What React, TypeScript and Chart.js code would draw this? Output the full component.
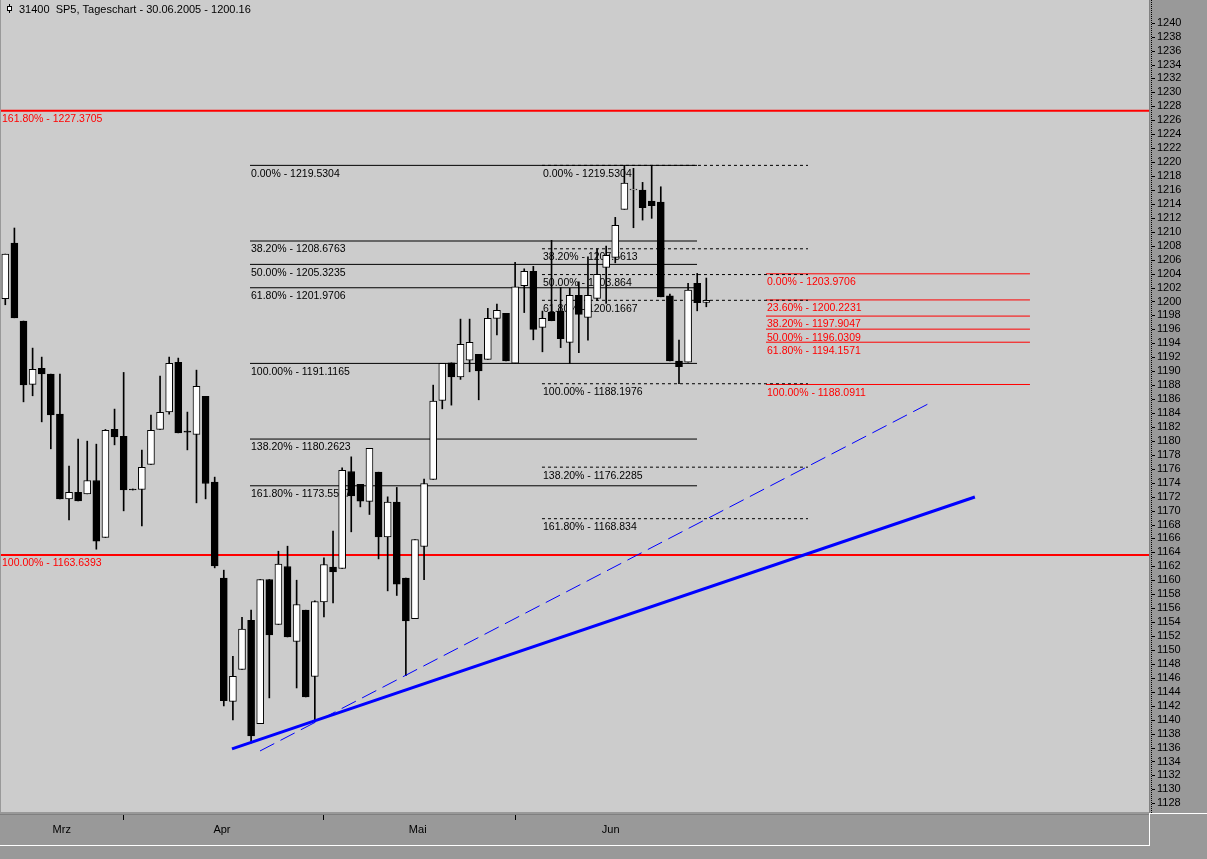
import React, { useEffect, useRef } from 'react';
import { Chart, registerables } from 'chart.js';

Chart.register(...registerables);

const TITLE = '31400  SP5, Tageschart - 30.06.2005 - 1200.16';

// Daily candles (index 0 = first visible trading day, 77 = 30.06.2005)
const opens = [
  1200.39, 1208.38, 1197.19, 1188.10, 1190.40, 1189.58, 1183.84, 1171.68, 1172.60, 1172.40,
  1174.32, 1166.14, 1181.64, 1180.64, 1173.10, 1173.03, 1176.62, 1181.64, 1184.17, 1191.26,
  1181.35, 1180.92, 1186.38, 1174.08, 1160.30, 1142.60, 1147.20, 1154.27, 1139.44, 1160.11,
  1153.65, 1161.98, 1151.21, 1155.71, 1146.19, 1156.90, 1161.88, 1161.69, 1175.61, 1173.75,
  1171.31, 1175.51, 1166.23, 1171.21, 1160.30, 1154.49, 1164.85, 1174.47, 1185.80, 1191.20,
  1189.19, 1191.59, 1192.41, 1191.69, 1197.57, 1198.29, 1191.16, 1202.28, 1204.33, 1196.28,
  1198.43, 1198.62, 1194.13, 1200.88, 1197.72, 1200.44, 1204.89, 1206.33, 1213.22, 1216.00,
  1215.99, 1214.41, 1214.27, 1200.82, 1191.44, 1191.30, 1202.60, 1199.87,
];
const highs = [
  1206.80, 1210.54, 1197.19, 1193.31, 1192.02, 1189.58, 1189.58, 1176.38, 1180.25, 1179.96,
  1179.53, 1181.64, 1184.56, 1189.82, 1173.10, 1178.67, 1183.70, 1189.29, 1192.02, 1191.88,
  1184.13, 1190.15, 1186.38, 1174.80, 1161.45, 1149.10, 1154.70, 1155.71, 1160.11, 1160.11,
  1164.17, 1164.89, 1160.01, 1155.71, 1157.04, 1163.21, 1167.05, 1176.13, 1177.71, 1173.75,
  1178.92, 1175.51, 1171.97, 1173.32, 1160.30, 1165.85, 1174.51, 1188.00, 1191.11, 1191.20,
  1197.47, 1197.47, 1192.41, 1199.01, 1199.63, 1198.29, 1205.61, 1204.69, 1205.04, 1198.62,
  1208.77, 1202.02, 1201.88, 1202.83, 1206.42, 1207.56, 1207.95, 1212.07, 1219.53, 1219.10,
  1217.09, 1219.48, 1216.46, 1201.06, 1194.46, 1202.60, 1204.03, 1203.36,
];
const lows = [
  1199.53, 1197.66, 1185.60, 1186.47, 1182.73, 1178.86, 1171.68, 1168.67, 1171.39, 1172.40,
  1164.46, 1166.14, 1179.43, 1169.96, 1172.95, 1167.81, 1176.62, 1181.64, 1183.84, 1181.15,
  1178.71, 1171.11, 1171.68, 1161.78, 1141.97, 1139.96, 1147.20, 1136.66, 1139.44, 1143.12,
  1153.65, 1151.87, 1144.55, 1143.26, 1139.67, 1154.75, 1156.75, 1161.69, 1166.95, 1170.53,
  1169.44, 1163.07, 1158.48, 1157.82, 1146.33, 1154.49, 1160.08, 1174.47, 1184.60, 1185.13,
  1188.82, 1189.91, 1185.89, 1191.69, 1195.22, 1191.49, 1191.16, 1198.41, 1194.50, 1192.78,
  1197.23, 1193.38, 1191.11, 1192.64, 1194.46, 1200.10, 1199.73, 1205.55, 1213.22, 1210.58,
  1211.68, 1211.93, 1200.67, 1191.49, 1188.20, 1191.30, 1198.66, 1199.24,
];
const closes = [
  1206.80, 1197.66, 1188.04, 1190.25, 1189.62, 1183.74, 1171.68, 1172.60, 1171.39, 1174.32,
  1165.61, 1181.50, 1180.58, 1172.97, 1172.95, 1176.19, 1181.50, 1184.08, 1191.11, 1181.15,
  1181.25, 1187.81, 1173.89, 1162.06, 1142.74, 1146.23, 1152.98, 1137.67, 1160.11, 1152.16,
  1162.31, 1151.87, 1156.53, 1143.26, 1156.95, 1162.26, 1161.20, 1175.76, 1172.11, 1171.35,
  1178.92, 1166.23, 1171.21, 1159.44, 1154.17, 1165.85, 1173.89, 1185.70, 1191.11, 1189.19,
  1193.84, 1194.13, 1190.05, 1197.57, 1198.72, 1191.49, 1202.11, 1204.32, 1195.99, 1197.57,
  1197.26, 1194.65, 1200.88, 1198.15, 1200.88, 1203.89, 1206.62, 1210.92, 1217.00, 1216.10,
  1213.45, 1213.74, 1200.67, 1191.49, 1190.63, 1201.64, 1199.84, 1200.16,
];

// X axis (trading-day index)
const xMin = -0.472;
const xMax = 125.626;
const monthLabels = ['Mrz', 'Apr', 'Mai', 'Jun'];
const monthLabelPos = [6.2, 23.8, 45.3, 66.5];
const monthStarts = [13, 35, 56];

// Y axis
const yMin = 1126.465;
const yMax = 1243.257;
const yStep = 2;
const yTickTop = 1240;

// Fibonacci sets
const fib1Pct = [0, 38.2, 50, 61.8, 100, 138.2, 161.8];
const fib1Val = [1219.5304, 1208.6763, 1205.3235, 1201.9706, 1191.1165, 1180.2623, 1173.5567];
const fib1Span = [26.88, 75.98];

const fib2Pct = [0, 38.2, 50, 61.8, 100, 138.2, 161.8];
const fib2Val = [1219.5304, 1207.5613, 1203.864, 1200.1667, 1188.1976, 1176.2285, 1168.834];
const fib2Span = [58.95, 88.17];

const fib3Pct = [0, 23.6, 38.2, 50, 61.8, 100];
const fib3Val = [1203.9706, 1200.2231, 1197.9047, 1196.0309, 1194.1571, 1188.0911];
const fib3Span = [83.56, 112.55];

const fibWidePct = [161.8, 100];
const fibWideVal = [1227.3705, 1163.6393];
const fibWideSpan = [-2, 128];

// Trend lines
const trendSolidX = [24.9, 106.5];
const trendSolidY = [1135.8, 1171.95];
const trendDashX = [27.98, 101.57];
const trendDashY = [1135.51, 1185.44];

const FONT = 'Liberation Sans, Arial, sans-serif';

type FibSet = {
  pct: number[];
  val: number[];
  span: number[];
  color: string;
  width: number;
  dash: number[];
  text: string;
};

const fibSets: FibSet[] = [
  { pct: fib1Pct, val: fib1Val, span: fib1Span, color: '#000000', width: 1, dash: [], text: '#000000' },
  { pct: fib2Pct, val: fib2Val, span: fib2Span, color: '#000000', width: 1, dash: [3, 3], text: '#000000' },
  { pct: fib3Pct, val: fib3Val, span: fib3Span, color: '#ff0000', width: 1, dash: [], text: '#ff0000' },
  { pct: fibWidePct, val: fibWideVal, span: fibWideSpan, color: '#ff0000', width: 2, dash: [], text: '#ff0000' },
];

const fibLabel = (p: number, v: number) => `${p.toFixed(2)}% - ${v}`;

export default function App() {
  const ref = useRef<HTMLCanvasElement | null>(null);

  useEffect(() => {
    if (!ref.current) return;
    const idx = opens.map((_, i) => i);
    const wickData = idx.map((i) => ({ x: i, y: [lows[i], highs[i]] }));
    const bodyData = idx.map((i) => ({ x: i, y: [opens[i], closes[i]] }));
    const bodyColors = idx.map((i) => (closes[i] >= opens[i] ? '#ffffff' : '#000000'));

    const fibDatasets: any[] = [];
    fibSets.forEach((s) => {
      s.val.forEach((v) => {
        fibDatasets.push({
          type: 'line',
          data: [
            { x: s.span[0], y: v },
            { x: s.span[1], y: v },
          ],
          borderColor: s.color,
          borderWidth: s.width,
          borderDash: s.dash,
          pointRadius: 0,
          fill: false,
          tension: 0,
          clip: 0,
          order: 5,
        });
      });
    });

    const trendDatasets: any[] = [
      {
        type: 'line',
        data: trendSolidX.map((x, i) => ({ x, y: trendSolidY[i] })),
        borderColor: '#0000ff',
        borderWidth: 3,
        pointRadius: 0,
        fill: false,
        clip: 0,
        order: 0,
      },
      {
        type: 'line',
        data: trendDashX.map((x, i) => ({ x, y: trendDashY[i] })),
        borderColor: '#0000ff',
        borderWidth: 1,
        borderDash: [16, 7],
        pointRadius: 0,
        fill: false,
        clip: 0,
        order: 0,
      },
    ];

    const bgPlugin = {
      id: 'bg',
      beforeDraw(chart: any) {
        const { ctx, chartArea: a } = chart;
        ctx.save();
        ctx.fillStyle = '#999999';
        ctx.fillRect(0, 0, chart.width, chart.height);
        ctx.fillStyle = '#cccccc';
        ctx.fillRect(a.left, a.top, a.right - a.left, a.bottom - 2 - a.top);
        ctx.restore();
      },
    };

    const labelsPlugin = {
      id: 'fibLabels',
      beforeDatasetsDraw(chart: any) {
        const { ctx, chartArea: a } = chart;
        const xs = chart.scales.x;
        const ys = chart.scales.y;
        ctx.save();
        ctx.font = `10.5px ${FONT}`;
        ctx.textBaseline = 'middle';
        ctx.textAlign = 'left';
        fibSets.forEach((s) => {
          const x0 = Math.max(a.left, xs.getPixelForValue(s.span[0])) + 1;
          ctx.fillStyle = s.text;
          s.val.forEach((v, i) => {
            ctx.fillText(fibLabel(s.pct[i], v), x0, ys.getPixelForValue(v) + 8.5);
          });
        });
        ctx.restore();
      },
    };

    const decoPlugin = {
      id: 'deco',
      afterDraw(chart: any) {
        const { ctx, chartArea: a } = chart;
        const ys = chart.scales.y;
        ctx.save();
        // separator between plot and y axis
        ctx.fillStyle = '#808080';
        ctx.fillRect(a.right, 0, 1, a.bottom - 1);
        // x-axis panel
        ctx.fillRect(0, a.bottom, a.right, 1);
        ctx.fillStyle = '#ffffff';
        ctx.fillRect(0, a.bottom + 31, a.right + 1, 1);
        ctx.fillRect(a.right, a.bottom - 1, 1, 33);
        ctx.fillRect(a.right + 1, a.bottom - 1, chart.width - a.right - 1, 1);
        // y-axis dotted line + tick dashes
        ctx.fillStyle = '#000000';
        for (let y = 0; y < a.bottom - 1; y += 2) ctx.fillRect(ys.left + 2, y, 1, 1);
        ys.ticks.forEach((t: any) => {
          const py = Math.round(ys.getPixelForValue(t.value));
          ctx.fillRect(ys.left + 3, py, 3, 1);
        });
        // title icon
        ctx.fillRect(9, 4, 1, 9);
        ctx.fillRect(7, 6, 5, 5);
        ctx.fillStyle = '#ffffff';
        ctx.fillRect(8, 7, 3, 3);
        // title
        ctx.fillStyle = '#000000';
        ctx.font = `11px ${FONT}`;
        ctx.textBaseline = 'middle';
        ctx.textAlign = 'left';
        ctx.fillText(TITLE, 19, 10);
        ctx.restore();
      },
    };

    const chart = new Chart(ref.current, {
      type: 'bar',
      data: {
        datasets: [
          ...trendDatasets,
          {
            type: 'bar',
            data: bodyData,
            backgroundColor: bodyColors,
            borderColor: '#000000',
            borderWidth: 1,
            borderSkipped: false,
            barThickness: 7,
            minBarLength: 1,
            grouped: false,
            order: 1,
          },
          {
            type: 'bar',
            data: wickData,
            backgroundColor: '#000000',
            borderWidth: 0,
            barThickness: 1,
            grouped: false,
            order: 2,
          },
          ...fibDatasets,
        ] as any,
      },
      options: {
        responsive: false,
        animation: false,
        devicePixelRatio: 1,
        layout: { padding: { left: 1, top: 0, right: 0, bottom: 0 } },
        plugins: { legend: { display: false }, tooltip: { enabled: false }, title: { display: false } },
        events: [],
        scales: {
          x: {
            type: 'linear',
            min: xMin,
            max: xMax,
            offset: false,
            afterFit: (s: any) => {
              s.height = 45;
              s.paddingLeft = 0;
              s.paddingRight = 0;
              s.paddingTop = 0;
              s.paddingBottom = 0;
            },
            afterBuildTicks: (s: any) => {
              s.ticks = [...monthStarts, ...monthLabelPos].sort((p, q) => p - q).map((v) => ({ value: v }));
            },
            ticks: {
              autoSkip: false,
              maxRotation: 0,
              padding: 3,
              color: '#000000',
              font: { family: FONT, size: 11 },
              callback: (v: any) => {
                const k = monthLabelPos.indexOf(Number(v));
                return k >= 0 ? monthLabels[k] : '';
              },
            },
            grid: {
              display: true,
              offset: false,
              drawOnChartArea: false,
              drawTicks: true,
              tickLength: 6,
              tickWidth: 1,
              tickColor: (c: any) => (c.tick && monthStarts.includes(c.tick.value) ? '#000000' : 'rgba(0,0,0,0)'),
            },
            border: { display: false },
          },
          y: {
            type: 'linear',
            position: 'right',
            min: yMin,
            max: yMax,
            beginAtZero: false,
            afterFit: (s: any) => {
              s.width = 58;
              s.paddingLeft = 0;
              s.paddingRight = 0;
              s.paddingTop = 0;
              s.paddingBottom = 0;
            },
            afterBuildTicks: (s: any) => {
              s.ticks = s.ticks.filter((t: any) => t.value <= yTickTop);
            },
            ticks: {
              stepSize: yStep,
              includeBounds: false,
              autoSkip: false,
              padding: 8,
              color: '#000000',
              font: { family: FONT, size: 11 },
              callback: (v: any) => String(v),
            },
            grid: { display: false, drawTicks: false },
            border: { display: false },
          },
        },
      } as any,
      plugins: [bgPlugin, labelsPlugin, decoPlugin],
    });

    return () => chart.destroy();
  }, []);

  return (
    <div style={{ position: 'absolute', left: 0, top: 0, width: 1207, height: 859 }}>
      <canvas ref={ref} width={1207} height={859} style={{ display: 'block' }} />
    </div>
  );
}
